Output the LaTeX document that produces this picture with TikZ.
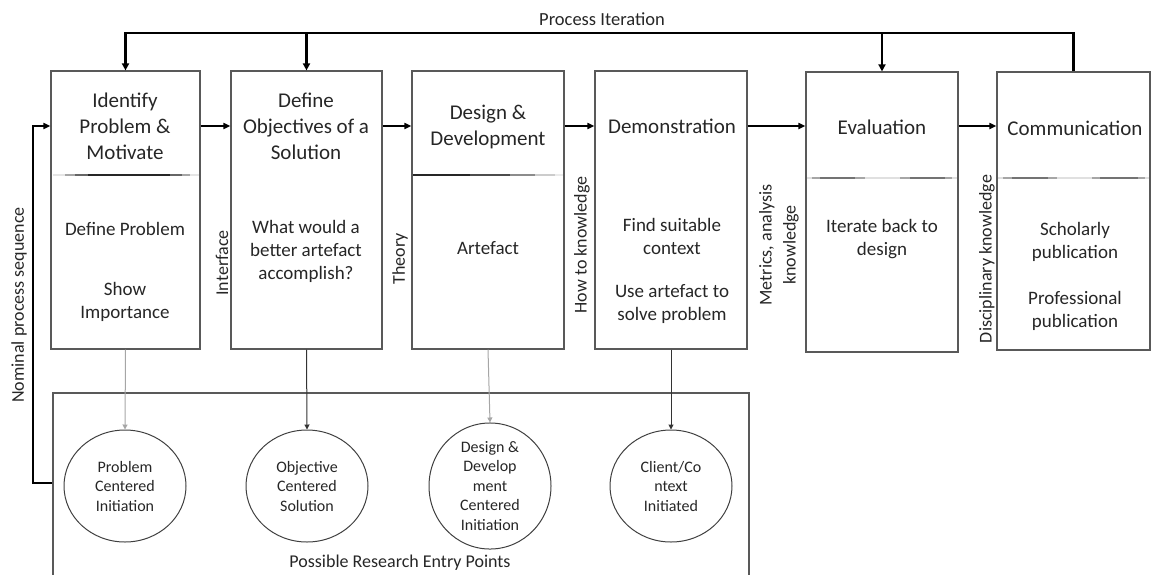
\documentclass[tikz,border=0pt]{standalone}
\usepackage{fontspec}
\setmainfont{Carlito}
\usetikzlibrary{arrows.meta,shapes.geometric}
\begin{document}
\begin{tikzpicture}[x=1pt,y=-1pt,
  stepbox/.style={draw=black!65, line width=1.2pt, inner sep=0pt},
  ttl/.style={font=\fontsize{21}{26}\selectfont, align=center, text=black!85},
  body/.style={font=\fontsize{19}{23}\selectfont, align=center, text=black!85},
  side/.style={font=\fontsize{18}{24}\selectfont, align=center, rotate=90, text=black!85},
  circ/.style={ellipse, draw=black!75, line width=1pt, minimum width=122pt, minimum height=112pt, inner sep=0pt, font=\fontsize{16}{19.5}\selectfont, align=center, text=black!85},
  flow/.style={draw=black, line width=1.8pt, -{Triangle[length=7pt,width=6pt]}},
  loopline/.style={draw=black, line width=2.6pt, line join=miter, -{Triangle[length=7pt,width=7pt]}},
  entry/.style={line width=1pt, -{Triangle[length=5pt,width=5pt]}},
  entrybox/.style={draw=black!65, line width=1.5pt, inner sep=0pt},
  divider/.style={line width=1.8pt}
]
\useasboundingbox (0,0) rectangle (1151,574);
\clip (0,0) rectangle (1151,574);

% coordinates for connector levels
\coordinate (top) at (0,33);
\coordinate (ah) at (0,126);
\coordinate (nomx) at (33,0);
\coordinate (nomy) at (0,483);

% step boxes
\node[stepbox, minimum width=149pt, minimum height=278pt] (b1) at (125.5,210) {};
\node[stepbox, minimum width=151pt, minimum height=278pt] (b2) at (306.5,210) {};
\node[stepbox, minimum width=152pt, minimum height=278pt] (b3) at (488,210) {};
\node[stepbox, minimum width=152pt, minimum height=278pt] (b4) at (671,210) {};
\node[stepbox, minimum width=152pt, minimum height=280pt] (b5) at (882,212) {};
\node[stepbox, minimum width=153pt, minimum height=278pt] (b6) at (1073.5,211) {};

% dividers (faded lines)
\draw[divider, black!10] (53,175) -- (199,175);
\draw[divider, black!35] (65,175) -- (190,175);
\draw[divider, black!60] (75,175) -- (182,175);
\draw[divider, black!85] (88,175) -- (170,175);

\draw[divider, black!85] (413,175) -- (470,175);
\draw[divider, black!70] (470,175) -- (510,175);
\draw[divider, black!45] (510,175) -- (535,175);
\draw[divider, black!20] (535,175) -- (555,175);
\draw[divider, black!8] (555,175) -- (563,175);

\draw[divider, black!12] (807,178) -- (957,178);
\draw[divider, black!35] (812,178) -- (865,178);
\draw[divider, black!35] (900,178) -- (952,178);
\draw[divider, black!55] (820,178) -- (855,178);
\draw[divider, black!55] (910,178) -- (945,178);

\draw[divider, black!12] (998,178) -- (1149,178);
\draw[divider, black!35] (1003,178) -- (1057,178);
\draw[divider, black!35] (1092,178) -- (1145,178);
\draw[divider, black!55] (1012,178) -- (1048,178);
\draw[divider, black!55] (1100,178) -- (1138,178);

% titles
\node[ttl] (t1) at (125,126) {Identify\\Problem \&\\Motivate};
\node[ttl] (t2) at (306,126) {Define\\Objectives of a\\Solution};
\node[ttl] (t3) at (488,126.5) {Design \&\\Development};
\node[ttl] (t4) at (672,126) {Demonstration};
\node[ttl] (t5) at (882,127) {Evaluation};
\node[ttl] (t6) at (1075,128) {Communication};

% bodies
\node[body] (d1a) at (125,229) {Define Problem};
\node[body] (d1b) at (125,301.5) {Show\\Importance};
\node[body] (d2) at (306,251.5) {What would a\\better artefact\\accomplish?};
\node[body] (d3) at (488,248) {Artefact};
\node[body] (d4a) at (672,236.5) {Find suitable\\context};
\node[body] (d4b) at (672,304.5) {Use artefact to\\solve problem};
\node[body] (d5) at (882,239) {Iterate back to\\design};
\node[body] (d6a) at (1075,242) {Scholarly\\publication};
\node[body] (d6b) at (1075,311) {Professional\\publication};

% side labels
\node[side] (s1) at (222,263) {Interface};
\node[side] (s2) at (400,259) {Theory};
\node[side] (s3) at (582,245) {How to knowledge};
\node[side] (s4) at (779,245) {Metrics, analysis\\knowledge};
\node[side] (s5) at (987,259) {Disciplinary knowledge};
\node[side] (s6) at (19,305) {Nominal process sequence};

% process iteration
\node[font=\fontsize{18.5}{22}\selectfont, text=black!85] (pi) at (602,19) {Process Iteration};
\draw[loopline] (b6.north) -- (b6.north |- top) -- (b1.north |- top) -- (b1.north);
\draw[loopline] (b2.north |- top) -- (b2.north);
\draw[loopline] (b5.north |- top) -- (b5.north);

% flow arrows
\draw[flow] (b1.east |- ah) -- (b2.west |- ah);
\draw[flow] (b2.east |- ah) -- (b3.west |- ah);
\draw[flow] (b3.east |- ah) -- (b4.west |- ah);
\draw[flow] (b4.east |- ah) -- (b5.west |- ah);
\draw[flow] (b5.east |- ah) -- (b6.west |- ah);

% entry points box
\node[entrybox, minimum width=696pt, minimum height=220pt, anchor=north west] (eb) at (52,392) {};
\node[font=\fontsize{18}{22}\selectfont, text=black!85] (ept) at (400,563) {Possible Research Entry Points};

% circles
\node[circ] (c1) at (125,486) {Problem\\Centered\\Initiation};
\node[circ] (c2) at (307,486) {Objective\\Centered\\Solution};
\node[circ] (c3) at (490,486) {Design \&\\Develop\\ment\\Centered\\Initiation};
\node[circ] (c4) at (671,486) {Client/Co\\ntext\\Initiated};

\draw[entry, draw=black!35] (b1.south) -- (c1.north);
\draw[entry, draw=black!80] (b2.south) -- (c2.north);
\draw[entry, draw=black!35] (b3.south) -- (c3.north);
\draw[entry, draw=black!80] (b4.south) -- (c4.north);

% nominal process sequence
\draw[draw=black, line width=2.4pt, line join=miter, -{Triangle[length=7pt,width=6pt]}]
  (eb.west |- nomy) -- (nomx |- nomy) -- (nomx |- ah) -- (b1.west |- ah);
\end{tikzpicture}
\end{document}
